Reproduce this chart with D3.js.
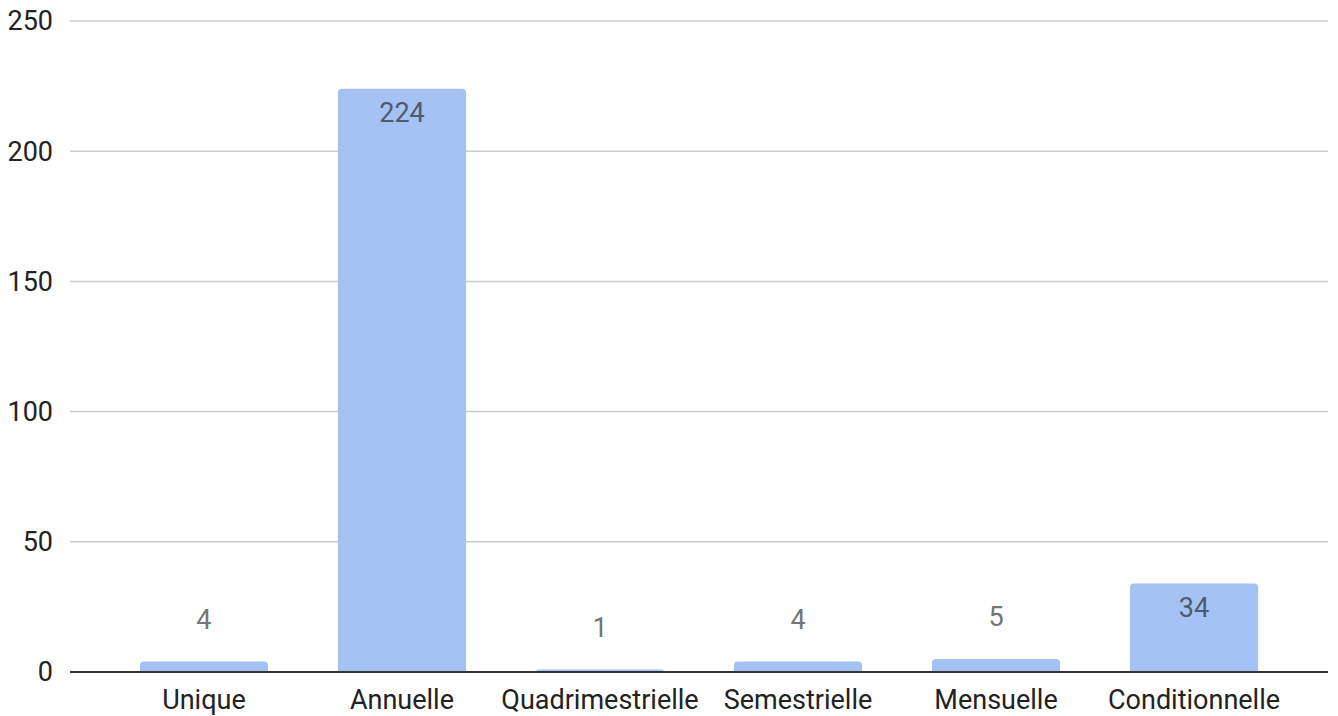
<!DOCTYPE html>
<html>
<head>
<meta charset="utf-8">
<script src="https://cdn.jsdelivr.net/npm/d3@7"></script>
<style>
  body { margin: 0; background: #fff; }
  svg { display: block; font-family: Roboto, Arial, sans-serif; }
</style>
</head>
<body>
<div id="chart"></div>
<script>
const categories = ["Unique", "Annuelle", "Quadrimestrielle", "Semestrielle", "Mensuelle", "Conditionnelle"]
const values = [4, 224, 1, 4, 5, 34]
const yTicks = [0, 50, 100, 150, 200, 250]

const width = 1338
const height = 716
const margin = {top: 21, right: 10, bottom: 44, left: 70}

const svg = d3.select("#chart").append("svg")
    .attr("width", width)
    .attr("height", height)

const x = d3.scaleBand()
    .domain(categories)
    .range([margin.left, width - margin.right])
    .padding(0.353)

const y = d3.scaleLinear()
    .domain([0, 250])
    .range([height - margin.bottom, margin.top])

// gridlines
svg.append("g")
    .selectAll("line")
    .data(yTicks.filter(d => d > 0))
    .join("line")
    .attr("x1", margin.left)
    .attr("x2", width - margin.right)
    .attr("y1", d => y(d))
    .attr("y2", d => y(d))
    .attr("stroke", "#cccccc")
    .attr("stroke-width", 1.5)

// y tick labels
svg.append("g")
    .selectAll("text")
    .data(yTicks)
    .join("text")
    .attr("x", 53)
    .attr("y", d => y(d))
    .attr("dy", "0.35em")
    .attr("text-anchor", "end")
    .style("font-size", "27px")
    .style("fill", "#222")
    .text(d => d)

// bars with rounded top corners
const r = 4
function barPath(d, i) {
    const x0 = x(categories[i]), x1 = x0 + x.bandwidth()
    const y0 = y(0), y1 = y(d)
    const rr = Math.min(r, (y0 - y1))
    return `M${x0},${y0} L${x0},${y1 + rr} Q${x0},${y1} ${x0 + rr},${y1} L${x1 - rr},${y1} Q${x1},${y1} ${x1},${y1 + rr} L${x1},${y0} Z`
}

svg.append("g")
    .selectAll("path")
    .data(values)
    .join("path")
    .attr("d", barPath)
    .attr("fill", "#a4c2f4")

// value labels: inside tall bars, above short ones
const inside = d => (y(0) - y(d)) > 40
svg.append("g")
    .selectAll("text")
    .data(values)
    .join("text")
    .attr("x", (d, i) => x(categories[i]) + x.bandwidth() / 2)
    .attr("y", d => inside(d) ? y(d) + 24 : y(d) - 42)
    .attr("dy", "0.35em")
    .attr("text-anchor", "middle")
    .style("font-size", "27px")
    .style("fill", d => inside(d) ? "#4f5b6c" : "#757575")
    .text(d => d)

// baseline
svg.append("line")
    .attr("x1", margin.left)
    .attr("x2", width - margin.right)
    .attr("y1", y(0))
    .attr("y2", y(0))
    .attr("stroke", "#333")
    .attr("stroke-width", 2)

// x labels
svg.append("g")
    .selectAll("text")
    .data(categories)
    .join("text")
    .attr("x", d => x(d) + x.bandwidth() / 2)
    .attr("y", 709)
    .attr("text-anchor", "middle")
    .style("font-size", "27px")
    .style("fill", "#222")
    .text(d => d)
</script>
</body>
</html>
